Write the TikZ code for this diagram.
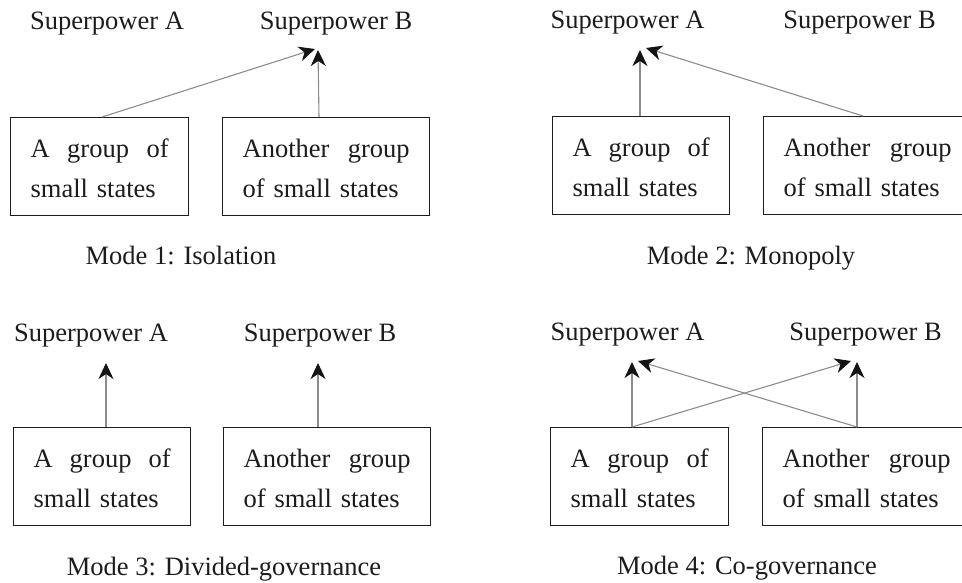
\documentclass[tikz,border=0pt]{standalone}
\usepackage{fontspec}
\setmainfont{Liberation Serif}
\usetikzlibrary{arrows.meta}
\definecolor{txt}{HTML}{1C1C1C}
\definecolor{ln}{HTML}{8C8C8C}
\definecolor{tipc}{HTML}{141414}
\begin{document}
\begin{tikzpicture}[x=1pt,y=-1pt,
  lbl/.style={anchor=base, inner sep=0pt, text=txt, font=\fontsize{26.5}{32}\selectfont},
  grp/.style={draw=txt, line width=1.3pt, anchor=north west, inner xsep=20pt, inner ysep=0pt,
    text height=40pt, text depth=58pt, text width=#1, align=left, text=txt,
    font=\fontsize{26.5}{40}\selectfont},
  arr/.style={draw=ln, line width=1.1pt, -{Stealth[length=16pt,width=15pt,inset=5pt,color=tipc]}}
]
\useasboundingbox (0,0) rectangle (962,583);
\clip (0,0) rectangle (962,583);

% ---------- Mode 1 ----------
\node[lbl] (p1a) at (107,30) {Superpower A};
\node[lbl] (p1b) at (336,30) {Superpower B};
\node[grp=138pt] (b1) at (10,117) {A\hfill group\hfill of\\small states};
\node[grp=167pt] (b2) at (222,117) {Another\hfill group\\of small states};
\node[lbl] (m1) at (181,265) {Mode 1: Isolation};
\coordinate (t1a) at (315,49);
\coordinate (t1b) at (318,50);
\draw[arr] ([xshift=92pt]b1.north west) -- (t1a);
\draw[arr] ([xshift=97pt]b2.north west) -- (t1b);

% ---------- Mode 2 ----------
\node[lbl] (p2a) at (627.5,29) {Superpower A};
\node[lbl] (p2b) at (859.5,29) {Superpower B};
\node[grp=137pt] (b3) at (552,116) {A\hfill group\hfill of\\small states};
\node[grp=168pt] (b4) at (763,116) {Another\hfill group\\of small states};
\node[lbl] (m2) at (751,265) {Mode 2: Monopoly};
\coordinate (t2a) at (640,50);
\coordinate (t2b) at (646,48);
\draw[arr] ([xshift=88pt]b3.north west) -- (t2a);
\draw[arr] ([xshift=100pt]b4.north west) -- (t2b);

% ---------- Mode 3 ----------
\node[lbl] (p3a) at (91,341) {Superpower A};
\node[lbl] (p3b) at (320,341) {Superpower B};
\node[grp=137pt] (b5) at (13,427) {A\hfill group\hfill of\\small states};
\node[grp=167pt] (b6) at (223,427) {Another\hfill group\\of small states};
\node[lbl] (m3) at (224,575) {Mode 3: Divided-governance};
\coordinate (t3a) at (106,363);
\coordinate (t3b) at (318,363);
\draw[arr] ([xshift=93pt]b5.north west) -- (t3a);
\draw[arr] ([xshift=95pt]b6.north west) -- (t3b);

% ---------- Mode 4 ----------
\node[lbl] (p4a) at (627.5,340) {Superpower A};
\node[lbl] (p4b) at (865.5,340) {Superpower B};
\node[grp=138pt] (b7) at (550,427) {A\hfill group\hfill of\\small states};
\node[grp=168pt] (b8) at (762,427) {Another\hfill group\\of small states};
\node[lbl] (m4) at (747,574) {Mode 4: Co-governance};
\coordinate (t4a) at (632,362);
\coordinate (t4ax) at (638,361);
\coordinate (t4b) at (857,362);
\coordinate (t4bx) at (851,361);
\draw[arr] ([xshift=82pt]b7.north west) -- (t4a);
\draw[arr] ([xshift=82pt]b7.north west) -- (t4bx);
\draw[arr] ([xshift=95pt]b8.north west) -- (t4b);
\draw[arr] ([xshift=95pt]b8.north west) -- (t4ax);
\end{tikzpicture}
\end{document}
